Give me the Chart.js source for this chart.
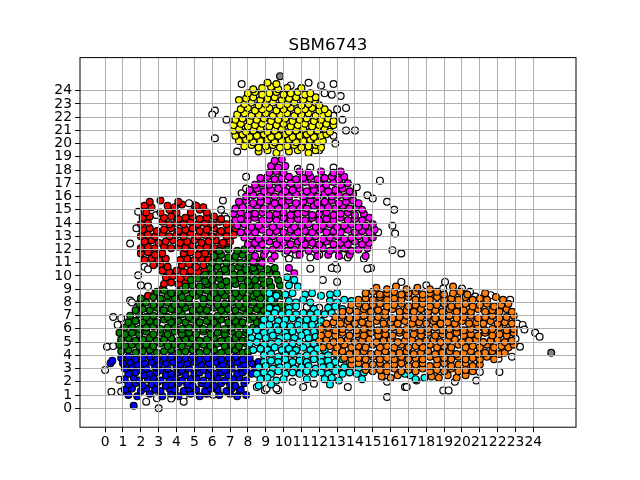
<!DOCTYPE html>
<html>
<head>
<meta charset="utf-8">
<script src="https://cdn.jsdelivr.net/npm/chart.js@4/dist/chart.umd.min.js"></script>
<style>
  body { margin: 0; background: #fff; }
  canvas { display: block; }
</style>
</head>
<body>
<canvas id="grafico" width="640" height="480"></canvas>
<script>
// Ticks de los ejes
const xTicks = [0,1,2,3,4,5,6,7,8,9,10,11,12,13,14,15,16,17,18,19,20,21,22,23,24];
const yTicks = [0,1,2,3,4,5,6,7,8,9,10,11,12,13,14,15,16,17,18,19,20,21,22,23,24];

// Puntos de cada grupo
const azul = [
  [1.3,1.0],[1.8,0.9],[2.5,1.1],[3.2,0.9],[3.7,1.1],[4.1,0.9],[4.8,1.1],[5.3,0.9],[5.7,1.1],[6.4,1.0],[7.0,1.1],[7.4,0.9],[7.9,1.0],
  [1.1,1.4],[1.5,1.5],[2.0,1.3],[2.3,1.5],[2.8,1.4],[3.1,1.3],[3.6,1.5],[3.9,1.4],[4.4,1.3],[4.7,1.5],[5.1,1.4],[5.6,1.3],[5.9,1.5],[6.3,1.4],[6.8,1.3],[7.1,1.5],[7.6,1.4],
  [1.3,1.8],[1.7,1.9],[2.1,1.7],[2.6,1.8],[2.9,1.9],[3.4,1.7],[3.7,1.8],[4.1,1.9],[4.6,1.8],[4.9,1.7],[5.4,1.9],[5.7,1.8],[6.1,1.7],[6.5,1.9],[7.0,1.8],[7.3,1.7],[7.8,1.9],
  [1.1,2.2],[1.6,2.3],[1.9,2.1],[2.4,2.2],[2.7,2.3],[3.1,2.1],[3.6,2.2],[3.9,2.3],[4.3,2.1],[4.8,2.2],[5.1,2.3],[5.5,2.1],[6.0,2.2],[6.3,2.3],[6.7,2.1],[7.2,2.2],[7.5,2.3],[7.9,2.1],
  [1.3,2.6],[1.7,2.7],[2.2,2.5],[2.5,2.6],[2.9,2.7],[3.4,2.5],[3.7,2.6],[4.1,2.7],[4.5,2.5],[5.0,2.6],[5.3,2.7],[5.8,2.5],[6.1,2.6],[6.5,2.7],[6.9,2.5],[7.4,2.6],[7.7,2.7],[8.2,2.6],
  [1.1,3.0],[1.5,3.1],[2.0,2.9],[2.3,3.0],[2.8,3.1],[3.1,2.9],[3.5,3.0],[4.0,3.1],[4.3,2.9],[4.7,3.0],[5.2,3.1],[5.5,2.9],[5.9,3.0],[6.4,3.1],[6.7,2.9],[7.1,3.0],[7.6,3.1],[7.9,2.9],[8.4,3.1],
  [1.0,3.4],[1.4,3.5],[1.8,3.3],[2.2,3.4],[2.6,3.5],[3.0,3.3],[3.4,3.4],[3.8,3.5],[4.2,3.3],[4.6,3.4],[5.0,3.5],[5.4,3.3],[5.8,3.4],[6.2,3.5],[6.6,3.3],[7.0,3.4],[7.4,3.5],[7.8,3.3],[8.2,3.4],[8.6,3.5],
  [0.9,3.8],[1.3,3.9],[1.7,3.7],[2.1,3.8],[2.5,3.9],[2.9,3.7],[3.3,3.8],[3.7,3.9],[4.1,3.7],[4.5,3.8],[4.9,3.9],[5.3,3.7],[5.7,3.8],[6.1,3.9],[6.5,3.7],[6.9,3.8],[7.3,3.9],[7.7,3.7],[8.1,3.8],
  [1.6,0.2],[0.3,3.4],[0.4,3.6]
];

const verde = [
  [0.9,4.3],[1.3,4.4],[1.7,4.2],[2.1,4.3],[2.5,4.4],[2.9,4.2],[3.3,4.3],[3.7,4.4],[4.1,4.2],[4.5,4.3],[4.9,4.4],[5.3,4.2],[5.7,4.3],[6.1,4.4],[6.5,4.2],[6.9,4.3],[7.3,4.4],[7.7,4.2],[8.0,4.3],
  [0.8,4.8],[1.1,4.7],[1.5,4.8],[1.9,4.7],[2.3,4.8],[2.7,4.7],[3.1,4.9],[3.5,4.7],[3.9,4.8],[4.3,4.7],[4.7,4.9],[5.1,4.7],[5.5,4.8],[5.9,4.7],[6.3,4.9],[6.7,4.7],[7.1,4.8],[7.5,4.7],[7.9,4.9],
  [0.9,5.2],[1.3,5.3],[1.7,5.1],[2.1,5.2],[2.5,5.3],[2.9,5.1],[3.3,5.2],[3.7,5.3],[4.1,5.1],[4.5,5.2],[4.9,5.3],[5.3,5.1],[5.7,5.2],[6.1,5.3],[6.5,5.1],[6.9,5.2],[7.3,5.3],[7.7,5.1],[8.0,5.2],
  [0.8,5.7],[1.1,5.6],[1.5,5.7],[1.9,5.6],[2.3,5.8],[2.7,5.6],[3.1,5.7],[3.5,5.6],[3.9,5.8],[4.3,5.6],[4.7,5.7],[5.1,5.6],[5.5,5.8],[5.9,5.6],[6.3,5.7],[6.7,5.6],[7.1,5.8],[7.5,5.6],[7.9,5.7],
  [1.1,6.1],[1.5,6.2],[1.9,6.0],[2.3,6.1],[2.7,6.2],[3.1,6.0],[3.5,6.1],[3.9,6.2],[4.3,6.0],[4.7,6.1],[5.1,6.2],[5.5,6.0],[5.9,6.1],[6.3,6.2],[6.7,6.0],[7.1,6.1],[7.5,6.2],[7.9,6.0],[8.3,6.1],[8.6,6.2],
  [1.3,6.5],[1.7,6.6],[2.1,6.5],[2.5,6.6],[2.9,6.5],[3.3,6.7],[3.7,6.5],[4.1,6.6],[4.5,6.5],[4.9,6.7],[5.3,6.5],[5.7,6.6],[6.1,6.5],[6.5,6.7],[6.9,6.5],[7.3,6.6],[7.7,6.5],[8.1,6.7],[8.5,6.5],[8.8,6.6],
  [1.4,7.0],[1.9,7.1],[2.3,6.9],[2.7,7.0],[3.1,7.1],[3.5,6.9],[3.9,7.0],[4.3,7.1],[4.7,6.9],[5.1,7.0],[5.5,7.1],[5.9,6.9],[6.3,7.0],[6.7,7.1],[7.1,6.9],[7.5,7.0],[7.9,7.1],[8.3,6.9],[8.7,7.0],
  [1.7,7.4],[2.1,7.5],[2.5,7.4],[2.9,7.6],[3.3,7.4],[3.7,7.5],[4.1,7.4],[4.5,7.6],[4.9,7.4],[5.3,7.5],[5.7,7.4],[6.1,7.6],[6.5,7.4],[6.9,7.5],[7.3,7.4],[7.7,7.6],[8.1,7.4],[8.5,7.5],[8.9,7.4],[9.3,7.6],[9.7,7.5],[10.0,7.4],
  [1.9,7.9],[2.3,8.0],[2.7,7.8],[3.1,7.9],[3.5,8.0],[3.9,7.8],[4.3,7.9],[4.7,8.0],[5.1,7.8],[5.5,7.9],[5.9,8.0],[6.3,7.8],[6.7,7.9],[7.1,8.0],[7.5,7.8],[7.9,7.9],[8.3,8.0],[8.7,7.8],[9.1,7.9],[9.5,8.0],[9.9,7.8],
  [2.0,8.3],[2.7,8.4],[3.1,8.3],[3.5,8.5],[3.9,8.3],[4.3,8.4],[4.7,8.3],[5.1,8.5],[5.5,8.3],[5.9,8.4],[6.3,8.3],[6.7,8.5],[7.1,8.3],[7.5,8.4],[7.9,8.3],[8.3,8.5],[8.7,8.3],[9.1,8.4],[9.5,8.3],[9.9,8.5],
  [2.9,8.8],[3.3,8.9],[3.7,8.7],[4.1,8.8],[4.5,8.9],[4.9,8.7],[5.3,8.8],[5.7,8.9],[6.1,8.7],[6.5,8.8],[6.9,8.9],[7.3,8.7],[7.7,8.8],[8.1,8.9],[8.5,8.7],[8.9,8.8],[9.3,8.9],[9.7,8.7],
  [4.5,9.2],[4.9,9.3],[5.3,9.2],[5.7,9.4],[6.1,9.2],[6.5,9.3],[6.9,9.2],[7.3,9.4],[7.7,9.2],[8.1,9.3],[8.5,9.2],[8.9,9.4],[9.3,9.2],[9.8,9.3],
  [4.8,9.7],[5.2,9.8],[5.6,9.6],[6.0,9.7],[6.4,9.8],[6.8,9.6],[7.2,9.7],[7.6,9.8],[8.0,9.6],[8.4,9.7],[8.8,9.8],[9.2,9.6],[9.7,9.7],
  [5.6,10.1],[6.0,10.2],[6.4,10.1],[6.8,10.3],[7.2,10.1],[7.6,10.2],[8.0,10.1],[8.4,10.3],[8.8,10.1],[9.2,10.2],[9.6,10.1],
  [5.9,10.6],[6.3,10.7],[6.7,10.5],[7.1,10.6],[7.5,10.7],[7.9,10.5],[8.3,10.6],[8.7,10.7],[9.1,10.5],[9.5,10.6],
  [6.0,11.0],[6.4,11.1],[6.8,11.0],[7.2,11.2],[7.6,11.0],[8.0,11.1],[8.4,11.0],[8.8,11.2],
  [6.1,11.5],[6.5,11.6],[6.9,11.4],[7.3,11.5],[7.7,11.6],[8.1,11.4],
  [6.4,11.9],[6.9,12.0],[7.4,11.9],[7.8,12.0]
];

const rojo = [
  [2.4,8.5],[2.8,8.7],[3.2,9.0],
  [3.3,9.4],[3.7,9.5],[4.1,9.4],[4.5,9.5],
  [3.4,9.9],[3.8,10.0],[4.2,9.8],[4.6,9.9],[5.0,10.0],
  [3.2,10.4],[3.6,10.3],[4.0,10.4],[4.4,10.3],[4.8,10.4],[5.2,10.3],[5.6,10.4],
  [2.7,10.8],[3.1,10.9],[3.5,10.7],[4.3,10.8],[4.7,10.9],[5.1,10.7],[5.5,10.8],
  [2.2,11.2],[2.6,11.3],[3.0,11.2],[3.4,11.3],[4.2,11.2],[4.6,11.3],[5.0,11.2],[5.4,11.3],[5.8,11.2],
  [2.0,11.7],[2.4,11.8],[2.8,11.6],[3.2,11.7],[4.4,11.7],[4.8,11.8],[5.2,11.6],[5.6,11.7],[6.0,11.8],
  [2.0,12.1],[2.4,12.2],[2.8,12.1],[3.3,12.2],[3.7,12.1],[4.1,12.2],[4.5,12.1],[4.9,12.3],[5.3,12.1],[5.7,12.2],[6.1,12.1],[6.5,12.3],[6.9,12.2],
  [2.2,12.6],[2.6,12.7],[3.0,12.5],[3.4,12.6],[3.8,12.7],[4.2,12.5],[4.6,12.6],[5.0,12.7],[5.4,12.5],[5.8,12.6],[6.2,12.7],[6.6,12.5],[7.0,12.6],
  [2.0,13.0],[2.4,13.1],[2.8,13.0],[3.2,13.2],[3.6,13.0],[4.0,13.1],[4.4,13.0],[4.8,13.2],[5.2,13.0],[5.6,13.1],[6.0,13.0],[6.4,13.2],[6.8,13.0],[7.2,13.1],
  [2.1,13.5],[2.5,13.6],[2.9,13.4],[3.3,13.5],[3.7,13.6],[4.1,13.4],[4.5,13.5],[4.9,13.6],[5.3,13.4],[5.7,13.5],[6.1,13.6],[6.5,13.4],[6.9,13.5],[7.3,13.6],
  [2.0,13.9],[2.4,14.0],[3.2,14.1],[3.6,13.9],[4.0,14.0],[4.4,13.9],[4.8,14.1],[5.2,13.9],[5.6,14.0],[6.0,13.9],[6.4,14.1],[6.8,13.9],[7.2,14.0],
  [2.1,14.4],[2.5,14.5],[3.3,14.4],[3.7,14.5],[4.1,14.3],[4.5,14.4],[4.9,14.5],[5.3,14.3],[5.7,14.4],[6.1,14.5],[6.5,14.3],
  [2.3,14.8],[3.1,14.8],[3.6,15.0],[4.0,14.8],[4.8,14.8],[5.3,15.0],[5.7,14.8],
  [2.2,15.3],[2.6,15.2],[3.5,15.3],[3.9,15.2],[4.3,15.4],[5.1,15.3],[5.5,15.2],
  [2.5,15.6],[3.1,15.7],[4.1,15.6]
];

const cian = [
  [10.2,9.9],[10.6,9.7],[10.3,9.3],[10.8,9.2],
  [9.2,8.7],[9.6,8.5],[10.1,8.6],[10.5,8.7],[11.2,8.6],[11.6,8.7],[12.1,8.5],[12.6,8.6],[13.0,8.7],
  [9.3,8.2],[10.3,8.1],[10.7,8.0],[11.1,8.2],[11.5,8.0],[12.6,8.1],[13.0,8.0],[13.4,8.2],[13.8,8.1],
  [9.2,7.6],[9.6,7.5],[10.3,7.6],[10.7,7.7],[11.7,7.5],[12.5,7.6],[12.9,7.7],[13.3,7.5],
  [9.1,7.1],[9.5,7.2],[9.9,7.1],[10.3,7.2],[10.7,7.1],[11.1,7.2],[11.5,7.1],[11.9,7.2],[12.3,7.1],[12.7,7.2],
  [8.9,6.7],[9.3,6.8],[9.7,6.6],[10.1,6.7],[10.5,6.8],[10.9,6.6],[11.3,6.7],[11.7,6.8],[12.1,6.6],
  [8.8,6.2],[9.2,6.3],[9.6,6.2],[10.0,6.3],[10.4,6.2],[10.8,6.3],[11.2,6.2],[11.6,6.3],[12.0,6.2],
  [8.1,5.8],[8.5,5.9],[8.9,5.7],[9.3,5.8],[9.7,5.9],[10.1,5.7],[10.5,5.8],[10.9,5.9],[11.3,5.7],[11.7,5.8],
  [8.2,5.3],[8.6,5.4],[9.0,5.3],[9.4,5.5],[9.8,5.3],[10.2,5.4],[10.6,5.3],[11.0,5.5],[11.4,5.3],[11.8,5.4],
  [8.1,4.9],[8.5,5.0],[8.9,4.8],[9.3,4.9],[9.7,5.0],[10.1,4.8],[10.5,4.9],[10.9,5.0],[11.3,4.8],[11.7,4.9],
  [8.3,4.4],[8.7,4.5],[9.1,4.4],[9.5,4.6],[9.9,4.4],[10.3,4.5],[10.7,4.4],[11.1,4.6],[11.5,4.4],[11.9,4.5],[12.3,4.4],
  [8.9,4.0],[9.3,4.1],[9.7,3.9],[10.1,4.0],[10.5,4.1],[10.9,3.9],[11.3,4.0],[11.7,4.1],[12.1,3.9],[12.5,4.0],[12.9,4.1],
  [8.9,3.5],[9.3,3.6],[9.7,3.5],[10.1,3.7],[10.5,3.5],[10.9,3.6],[11.3,3.5],[11.7,3.7],[12.1,3.5],[12.5,3.6],[12.9,3.5],[13.3,3.7],[13.7,3.5],
  [8.6,3.1],[9.0,3.2],[9.4,3.0],[9.8,3.1],[10.2,3.2],[10.6,3.0],[11.0,3.1],[11.4,3.2],[11.8,3.0],[12.2,3.1],[12.6,3.2],[13.0,3.0],[13.4,3.1],[13.8,3.2],[14.2,3.0],
  [8.5,2.6],[8.9,2.7],[9.3,2.6],[9.7,2.8],[10.1,2.6],[10.5,2.7],[10.9,2.6],[11.3,2.8],[11.7,2.6],[12.1,2.7],[12.5,2.6],[12.9,2.8],[13.3,2.6],[13.7,2.7],[14.1,2.6],[14.5,2.7],
  [8.7,2.2],[9.1,2.3],[9.6,2.1],[10.0,2.2],[11.3,2.2],[12.3,2.2],[12.7,2.3],[13.1,2.1],[14.4,2.2],
  [8.6,1.7],[9.3,1.8],[12.6,1.8],
  [17.1,2.5],[17.4,2.2],[17.9,2.3],[16.8,2.6]
];

const magenta = [
  [8.3,11.1],[8.8,11.0],[9.3,11.2],[10.3,10.6],[10.6,10.2],
  [8.4,11.5],[8.9,11.6],[9.5,11.5],[10.9,11.6],[11.9,11.5],[12.5,11.6],[13.1,11.5],[13.7,11.6],[14.6,11.5],
  [8.2,12.0],[8.6,12.1],[9.0,11.9],[9.4,12.0],[9.8,12.1],[10.2,11.9],[10.6,12.0],[11.0,12.1],[11.4,11.9],[11.8,12.0],[12.2,12.1],[12.6,11.9],[13.0,12.0],[13.4,12.1],[13.8,11.9],[14.2,12.0],[14.7,12.1],
  [8.0,12.4],[8.4,12.5],[8.8,12.4],[9.2,12.6],[9.6,12.4],[10.0,12.5],[10.4,12.4],[10.8,12.6],[11.2,12.4],[11.6,12.5],[12.0,12.4],[12.4,12.6],[12.8,12.4],[13.2,12.5],[13.6,12.4],[14.0,12.6],[14.4,12.4],[14.8,12.5],
  [7.8,12.9],[8.2,13.0],[8.6,12.8],[9.0,12.9],[9.4,13.0],[9.8,12.8],[10.2,12.9],[10.6,13.0],[11.0,12.8],[11.4,12.9],[11.8,13.0],[12.2,12.8],[12.6,12.9],[13.0,13.0],[13.4,12.8],[13.8,12.9],[14.2,13.0],[14.6,12.8],[15.0,12.9],
  [7.6,13.3],[8.0,13.4],[8.4,13.3],[8.8,13.5],[9.2,13.3],[9.6,13.4],[10.0,13.3],[10.4,13.5],[10.8,13.3],[11.2,13.4],[11.6,13.3],[12.0,13.5],[12.4,13.3],[12.8,13.4],[13.2,13.3],[13.6,13.5],[14.0,13.3],[14.4,13.4],[14.8,13.3],[15.1,13.5],
  [7.4,13.8],[7.8,13.9],[8.2,13.7],[8.6,13.8],[9.0,13.9],[9.4,13.7],[9.8,13.8],[10.2,13.9],[10.6,13.7],[11.0,13.8],[11.4,13.9],[11.8,13.7],[12.2,13.8],[12.6,13.9],[13.0,13.7],[13.4,13.8],[13.8,13.9],[14.2,13.7],[14.6,13.8],[15.0,13.9],
  [7.3,14.2],[7.6,14.3],[8.0,14.2],[8.4,14.4],[8.8,14.2],[9.2,14.3],[9.6,14.2],[10.0,14.4],[10.4,14.2],[10.8,14.3],[11.2,14.2],[11.6,14.4],[12.0,14.2],[12.4,14.3],[12.8,14.2],[13.2,14.4],[13.6,14.2],[14.0,14.3],[14.4,14.2],[14.8,14.4],
  [7.2,14.7],[7.6,14.8],[8.0,14.6],[8.4,14.7],[8.8,14.8],[9.2,14.6],[9.6,14.7],[10.0,14.8],[10.4,14.6],[10.8,14.7],[11.2,14.8],[11.6,14.6],[12.0,14.7],[12.4,14.8],[12.8,14.6],[13.2,14.7],[13.6,14.8],[14.0,14.6],[14.5,14.7],
  [7.3,15.1],[7.7,15.2],[8.1,15.1],[8.5,15.3],[8.9,15.1],[9.3,15.2],[9.7,15.1],[10.1,15.3],[10.5,15.1],[10.9,15.2],[11.3,15.1],[11.7,15.3],[12.1,15.1],[12.5,15.2],[12.9,15.1],[13.3,15.3],[13.7,15.1],[14.1,15.2],[14.4,15.0],
  [7.5,15.6],[7.9,15.7],[8.3,15.5],[8.7,15.6],[9.1,15.7],[9.5,15.5],[9.9,15.6],[10.3,15.7],[10.7,15.5],[11.1,15.6],[11.5,15.7],[11.9,15.5],[12.3,15.6],[12.7,15.7],[13.1,15.5],[13.5,15.6],[13.9,15.7],[14.2,15.5],
  [7.9,16.0],[8.3,16.1],[8.7,16.0],[9.1,16.2],[9.5,16.0],[9.9,16.1],[10.3,16.0],[10.7,16.2],[11.1,16.0],[11.5,16.1],[11.9,16.0],[12.3,16.2],[12.7,16.0],[13.1,16.1],[13.5,16.0],[13.9,16.2],
  [8.1,16.5],[8.5,16.6],[8.9,16.4],[9.3,16.5],[9.7,16.6],[10.1,16.4],[10.5,16.5],[10.9,16.6],[11.3,16.4],[11.7,16.5],[12.1,16.6],[12.5,16.4],[12.9,16.5],[13.3,16.6],[13.7,16.4],
  [8.4,16.9],[8.8,17.0],[9.2,16.9],[9.6,17.1],[10.0,16.9],[10.4,17.0],[10.8,16.9],[11.2,17.1],[11.6,16.9],[12.0,17.0],[12.4,16.9],[12.8,17.1],[13.2,16.9],[13.6,17.0],
  [8.7,17.4],[9.1,17.5],[9.5,17.3],[9.9,17.4],[10.3,17.5],[10.7,17.3],[11.1,17.4],[11.5,17.5],[11.9,17.3],[12.3,17.4],[12.7,17.5],[13.1,17.3],[13.4,17.5],
  [9.2,17.8],[9.6,17.9],[10.0,17.8],[10.9,17.9],[11.4,17.8],[12.1,17.9],[12.8,17.8],[13.2,17.9],
  [9.3,18.3],[9.7,18.2],[10.1,18.3],
  [9.5,18.7],[9.9,18.8]
];

const amarillo = [
  [8.6,19.4],[9.1,19.5],[9.6,19.3],[10.3,19.4],[10.8,19.5],[11.4,19.3],[11.8,19.5],
  [7.8,19.8],[8.2,19.9],[8.6,19.7],[9.0,19.8],[9.4,19.9],[9.8,19.7],[10.2,19.8],[10.6,19.9],[11.0,19.7],[11.4,19.8],[11.8,19.9],[12.1,19.7],
  [7.5,20.2],[7.9,20.3],[8.3,20.1],[8.7,20.2],[9.1,20.3],[9.5,20.1],[9.9,20.2],[10.3,20.3],[10.7,20.1],[11.1,20.2],[11.5,20.3],[11.9,20.1],[12.2,20.2],
  [7.3,20.6],[7.7,20.7],[8.1,20.5],[8.5,20.6],[8.9,20.7],[9.3,20.5],[9.7,20.6],[10.1,20.7],[10.5,20.5],[10.9,20.6],[11.3,20.7],[11.7,20.5],[12.1,20.6],[12.4,20.7],
  [7.2,21.0],[7.5,21.1],[7.9,20.9],[8.3,21.0],[8.7,21.1],[9.1,20.9],[9.5,21.0],[9.9,21.1],[10.3,20.9],[10.7,21.0],[11.1,21.1],[11.5,20.9],[11.9,21.0],[12.3,21.1],[12.6,20.9],
  [7.2,21.4],[7.6,21.5],[8.0,21.3],[8.4,21.4],[8.8,21.5],[9.2,21.3],[9.6,21.4],[10.0,21.5],[10.4,21.3],[10.8,21.4],[11.2,21.5],[11.6,21.3],[12.0,21.4],[12.4,21.5],[12.8,21.4],
  [7.3,21.8],[7.7,21.9],[8.1,21.7],[8.5,21.8],[8.9,21.9],[9.3,21.7],[9.7,21.8],[10.1,21.9],[10.5,21.7],[10.9,21.8],[11.3,21.9],[11.7,21.7],[12.1,21.8],[12.5,21.9],[12.8,21.7],
  [7.4,22.2],[7.8,22.3],[8.2,22.1],[8.6,22.2],[9.0,22.3],[9.4,22.1],[9.8,22.2],[10.2,22.3],[10.6,22.1],[11.0,22.2],[11.4,22.3],[11.8,22.1],[12.2,22.2],[12.5,22.3],
  [7.6,22.6],[8.0,22.7],[8.4,22.5],[8.8,22.6],[9.2,22.7],[9.6,22.5],[10.0,22.6],[10.4,22.7],[10.8,22.5],[11.2,22.6],[11.6,22.7],[12.0,22.5],[12.3,22.6],
  [7.8,23.0],[8.2,23.1],[8.6,22.9],[9.0,23.0],[9.4,23.1],[9.8,22.9],[10.2,23.0],[10.6,23.1],[11.0,22.9],[11.4,23.0],[11.8,23.1],[12.0,22.9],
  [7.5,23.3],[7.9,23.4],[8.3,23.5],[8.7,23.3],[9.1,23.4],[9.5,23.5],[9.9,23.3],[10.3,23.4],[10.7,23.5],[11.1,23.3],[11.5,23.4],[11.8,23.5],
  [8.0,23.8],[8.4,23.9],[8.8,23.7],[9.2,23.8],[9.6,23.9],[10.0,23.7],[10.4,23.8],[10.8,23.9],[11.2,23.7],[11.5,23.8],
  [8.3,24.1],[8.8,24.2],[9.3,24.3],[9.7,24.1],[10.2,24.2],[11.0,24.2],
  [9.1,24.6],[9.6,24.5]
];

const naranja = [
  [15.5,2.4],[16.0,2.3],[16.4,2.5],[18.3,2.4],[18.7,2.3],[19.2,2.5],[19.7,2.3],[20.2,2.5],
  [14.6,2.9],[15.0,2.8],[15.4,2.9],[15.8,2.8],[16.2,3.0],[16.6,2.8],[17.0,2.9],[17.4,2.8],[17.8,3.0],[18.2,2.8],[18.6,2.9],[19.0,2.8],[19.4,3.0],[19.8,2.8],[20.2,2.9],[20.6,2.8],
  [13.8,3.3],[14.2,3.4],[14.6,3.2],[15.0,3.3],[15.4,3.4],[15.8,3.2],[16.2,3.3],[16.6,3.4],[17.0,3.2],[17.4,3.3],[17.8,3.4],[18.2,3.2],[18.6,3.3],[19.0,3.4],[19.4,3.2],[19.8,3.3],[20.2,3.4],[20.6,3.2],[21.0,3.3],
  [13.4,3.8],[13.8,3.7],[14.2,3.8],[14.6,3.7],[15.0,3.9],[15.4,3.7],[15.8,3.8],[16.2,3.7],[16.6,3.9],[17.0,3.7],[17.4,3.8],[17.8,3.7],[18.2,3.9],[18.6,3.7],[19.0,3.8],[19.4,3.7],[19.8,3.9],[20.2,3.7],[20.6,3.8],[21.0,3.7],[21.4,3.9],[21.8,3.7],
  [12.9,4.2],[13.3,4.3],[13.7,4.1],[14.1,4.2],[14.5,4.3],[14.9,4.1],[15.3,4.2],[15.7,4.3],[16.1,4.1],[16.5,4.2],[16.9,4.3],[17.3,4.1],[17.7,4.2],[18.1,4.3],[18.5,4.1],[18.9,4.2],[19.3,4.3],[19.7,4.1],[20.1,4.2],[20.5,4.3],[20.9,4.1],[21.3,4.2],[21.7,4.3],[22.1,4.1],[22.4,4.2],
  [12.2,4.6],[12.6,4.7],[13.0,4.6],[13.4,4.8],[13.8,4.6],[14.2,4.7],[14.6,4.6],[15.0,4.8],[15.4,4.6],[15.8,4.7],[16.2,4.6],[16.6,4.8],[17.0,4.6],[17.4,4.7],[17.8,4.6],[18.2,4.8],[18.6,4.6],[19.0,4.7],[19.4,4.6],[19.8,4.8],[20.2,4.6],[20.6,4.7],[21.0,4.6],[21.4,4.8],[21.8,4.6],[22.2,4.7],[22.6,4.6],[22.9,4.8],
  [12.0,5.1],[12.4,5.2],[12.8,5.0],[13.2,5.1],[13.6,5.2],[14.0,5.0],[14.4,5.1],[14.8,5.2],[15.2,5.0],[15.6,5.1],[16.0,5.2],[16.4,5.0],[16.8,5.1],[17.2,5.2],[17.6,5.0],[18.0,5.1],[18.4,5.2],[18.8,5.0],[19.2,5.1],[19.6,5.2],[20.0,5.0],[20.4,5.1],[20.8,5.2],[21.2,5.0],[21.6,5.1],[22.0,5.2],[22.4,5.0],[22.8,5.1],
  [12.1,5.5],[12.5,5.6],[12.9,5.5],[13.3,5.7],[13.7,5.5],[14.1,5.6],[14.5,5.5],[14.9,5.7],[15.3,5.5],[15.7,5.6],[16.1,5.5],[16.5,5.7],[16.9,5.5],[17.3,5.6],[17.7,5.5],[18.1,5.7],[18.5,5.5],[18.9,5.6],[19.3,5.5],[19.7,5.7],[20.1,5.5],[20.5,5.6],[20.9,5.5],[21.3,5.7],[21.7,5.5],[22.1,5.6],[22.5,5.5],[22.9,5.7],
  [12.1,6.0],[12.5,6.1],[12.9,5.9],[13.3,6.0],[13.7,6.1],[14.1,5.9],[14.5,6.0],[14.9,6.1],[15.3,5.9],[15.7,6.0],[16.1,6.1],[16.5,5.9],[16.9,6.0],[17.3,6.1],[17.7,5.9],[18.1,6.0],[18.5,6.1],[18.9,5.9],[19.3,6.0],[19.7,6.1],[20.1,5.9],[20.5,6.0],[20.9,6.1],[21.3,5.9],[21.7,6.0],[22.1,6.1],[22.5,5.9],[22.9,6.0],
  [12.4,6.4],[12.8,6.5],[13.2,6.4],[13.6,6.6],[14.0,6.4],[14.4,6.5],[14.8,6.4],[15.2,6.6],[15.6,6.4],[16.0,6.5],[16.4,6.4],[16.8,6.6],[17.2,6.4],[17.6,6.5],[18.0,6.4],[18.4,6.6],[18.8,6.4],[19.2,6.5],[19.6,6.4],[20.0,6.6],[20.4,6.4],[20.8,6.5],[21.2,6.4],[21.6,6.6],[22.0,6.4],[22.4,6.5],[22.8,6.4],
  [12.9,6.9],[13.3,7.0],[13.7,6.8],[14.1,6.9],[14.5,7.0],[14.9,6.8],[15.3,6.9],[15.7,7.0],[16.1,6.8],[16.5,6.9],[16.9,7.0],[17.3,6.8],[17.7,6.9],[18.1,7.0],[18.5,6.8],[18.9,6.9],[19.3,7.0],[19.7,6.8],[20.1,6.9],[20.5,7.0],[20.9,6.8],[21.3,6.9],[21.7,7.0],[22.1,6.8],[22.5,6.9],[22.9,7.0],
  [13.3,7.3],[13.7,7.4],[14.1,7.3],[14.5,7.5],[14.9,7.3],[15.3,7.4],[15.7,7.3],[16.1,7.5],[16.5,7.3],[16.9,7.4],[17.3,7.3],[17.7,7.5],[18.1,7.3],[18.5,7.4],[18.9,7.3],[19.3,7.5],[19.7,7.3],[20.1,7.4],[20.5,7.3],[20.9,7.5],[21.3,7.3],[21.7,7.4],[22.1,7.3],[22.5,7.5],[22.8,7.3],
  [13.8,7.8],[14.2,7.9],[14.6,7.7],[15.0,7.8],[15.4,7.9],[15.8,7.7],[16.2,7.8],[16.6,7.9],[17.0,7.7],[17.4,7.8],[17.8,7.9],[18.2,7.7],[18.6,7.8],[19.0,7.9],[19.4,7.7],[19.8,7.8],[20.2,7.9],[20.6,7.7],[21.0,7.8],[21.4,7.9],[21.8,7.7],[22.2,7.8],[22.6,7.9],
  [14.2,8.2],[14.6,8.3],[15.0,8.2],[15.4,8.4],[15.8,8.2],[16.2,8.3],[16.6,8.2],[17.0,8.4],[17.4,8.2],[17.8,8.3],[18.2,8.2],[18.6,8.4],[19.0,8.2],[19.4,8.3],[19.8,8.2],[20.2,8.4],[20.6,8.2],[21.0,8.3],[21.4,8.2],[21.9,8.4],[22.3,8.2],
  [14.6,8.7],[15.0,8.8],[15.4,8.6],[15.8,8.7],[16.2,8.8],[16.6,8.6],[17.0,8.7],[17.4,8.8],[17.8,8.6],[18.2,8.7],[18.6,8.8],[19.0,8.6],[19.5,8.7],[19.9,8.8],[20.3,8.6],[21.3,8.7],
  [15.2,9.1],[15.8,9.0],[16.3,9.2],[16.9,9.0],[17.5,9.1],[18.2,9.0],[19.5,9.2]
];

// Puntos sin grupo (blancos) y los dos grises
const blanco = [
  [7.65,24.5],[10.4,24.4],[11.4,24.6],[12.1,24.4],[12.8,24.5],[12.3,23.8],[12.7,23.7],[13.2,23.6],[13.5,22.7],[13.0,22.6],
  [6.15,22.5],[6.0,22.2],[6.8,21.8],[12.8,22.1],[13.3,21.8],[13.5,21.0],[14.0,21.0],[12.8,20.6],[12.9,20.0],[6.15,20.4],
  [7.4,19.4],[12.0,19.5],[11.5,18.2],[12.8,18.2],[10.8,18.1],
  [15.4,17.2],[7.9,17.5],[14.1,16.7],[14.7,16.1],[6.6,15.7],[7.65,16.25],[15.0,15.85],[15.8,15.6],[16.2,15.0],[6.5,15.0],
  [6.7,14.5],[16.1,13.8],[16.25,13.2],[15.3,13.3],[16.1,11.95],[16.6,11.7],[14.5,11.3],[13.35,11.6],[12.9,10.8],[11.5,11.4],
  [12.0,11.6],[10.7,11.6],[10.1,11.7],[14.9,10.6],[12.7,10.6],[7.9,16.6],
  [1.85,14.85],[2.85,14.6],[5.0,15.35],[4.7,15.5],[6.8,14.3],[1.75,13.6],[1.4,12.45],[2.2,10.7],[2.4,10.5],[1.85,10.05],
  [2.0,9.3],[2.4,9.2],[1.4,8.15],[1.5,8.0],[0.45,6.9],[0.9,6.8],[0.7,6.3],[0.1,4.65],[0.45,4.7],[0.0,2.9],
  [0.8,2.15],[0.35,1.25],[0.9,1.25],[2.3,0.5],[2.9,0.75],[3.0,0.0],[3.7,0.73],[4.4,0.85],[4.4,0.5],[6.05,1.03],
  [7.55,1.35],[8.95,1.36],[9.7,1.36],
  [10.3,11.3],[13.0,10.55],[13.6,11.4],[14.7,10.55],[11.5,10.55],[16.6,9.55],[12.2,9.7],[13.0,9.55],[11.3,7.65],[12.0,7.6],
  [10.5,2.0],[11.1,1.6],[11.7,1.85],[9.05,1.5],[9.6,1.5],[13.6,1.6],[15.8,2.0],[15.8,0.85],[16.8,1.6],[8.5,1.6],
  [18.0,9.3],[19.05,9.55],[18.95,9.05],[20.0,9.05],[20.45,8.8],[20.75,8.45],[21.6,8.55],[22.7,8.2],[23.1,6.4],[23.4,6.3],
  [23.5,5.95],[23.0,5.25],[23.25,4.65],[24.1,5.7],[24.35,5.4],[22.8,3.9],[22.05,3.75],[21.0,2.75],[22.1,2.75],[20.8,2.1],
  [19.6,2.0],[18.95,1.35],[19.25,1.35],[17.45,2.1],[16.9,1.6]
];
const gris = [[25.0,4.2],[9.8,25.1]];

const grupos = [
  { puntos: blanco,   color: '#ffffff', orden: 10 },
  { puntos: rojo,     color: '#ff0000', orden: 9 },
  { puntos: verde,    color: '#008000', orden: 8 },
  { puntos: azul,     color: '#0000ff', orden: 7 },
  { puntos: cian,     color: '#00ffff', orden: 6 },
  { puntos: magenta,  color: '#ff00ff', orden: 5 },
  { puntos: amarillo, color: '#ffff00', orden: 4 },
  { puntos: naranja,  color: '#ff7f0e', orden: 3 },
  { puntos: gris,     color: '#808080', orden: 1 }
];

// Marco completo y titulo como en matplotlib
const marco = {
  id: 'marco',
  afterDraw(chart) {
    const { ctx, chartArea: a } = chart;
    ctx.save();
    ctx.strokeStyle = '#000';
    ctx.lineWidth = 1;
    ctx.strokeRect(a.left, a.top, a.right - a.left, a.bottom - a.top);
    ctx.fillStyle = '#000';
    ctx.font = '16.7px "DejaVu Sans"';
    ctx.textAlign = 'center';
    ctx.textBaseline = 'alphabetic';
    ctx.fillText('SBM6743', (a.left + a.right) / 2, 49.5);
    ctx.restore();
  }
};

const fuenteTicks = { family: 'DejaVu Sans', size: 13.9 };

new Chart(document.getElementById('grafico'), {
  type: 'scatter',
  data: {
    datasets: grupos.map(g => ({
      data: g.puntos.map(([x, y]) => ({ x, y })),
      backgroundColor: g.color,
      borderColor: '#000',
      borderWidth: 1.2,
      pointRadius: 3.4,
      pointHoverRadius: 3.4,
      order: g.orden
    }))
  },
  options: {
    responsive: false,
    animation: false,
    events: [],
    layout: { padding: { top: 57.6, right: 64, left: 0, bottom: 0 } },
    plugins: { legend: { display: false }, tooltip: { enabled: false }, title: { display: false } },
    scales: {
      x: {
        type: 'linear',
        min: -1.41,
        max: 26.39,
        afterBuildTicks: s => { s.ticks = xTicks.map(v => ({ value: v })); },
        afterFit: s => { s.height = 52.8; },
        ticks: { autoSkip: false, maxRotation: 0, color: '#000', font: fuenteTicks, padding: 2, callback: v => String(v) },
        grid: { color: '#b0b0b0', lineWidth: 1, tickColor: '#000', tickLength: 5, z: 1 },
        border: { display: false }
      },
      y: {
        type: 'linear',
        min: -1.43,
        max: 26.5,
        afterBuildTicks: s => { s.ticks = yTicks.map(v => ({ value: v })); },
        afterFit: s => { s.width = 80; },
        ticks: { autoSkip: false, color: '#000', font: fuenteTicks, padding: 3, callback: v => String(v) },
        grid: { color: '#b0b0b0', lineWidth: 1, tickColor: '#000', tickLength: 5, z: 1 },
        border: { display: false }
      }
    }
  },
  plugins: [marco]
});
</script>
</body>
</html>
